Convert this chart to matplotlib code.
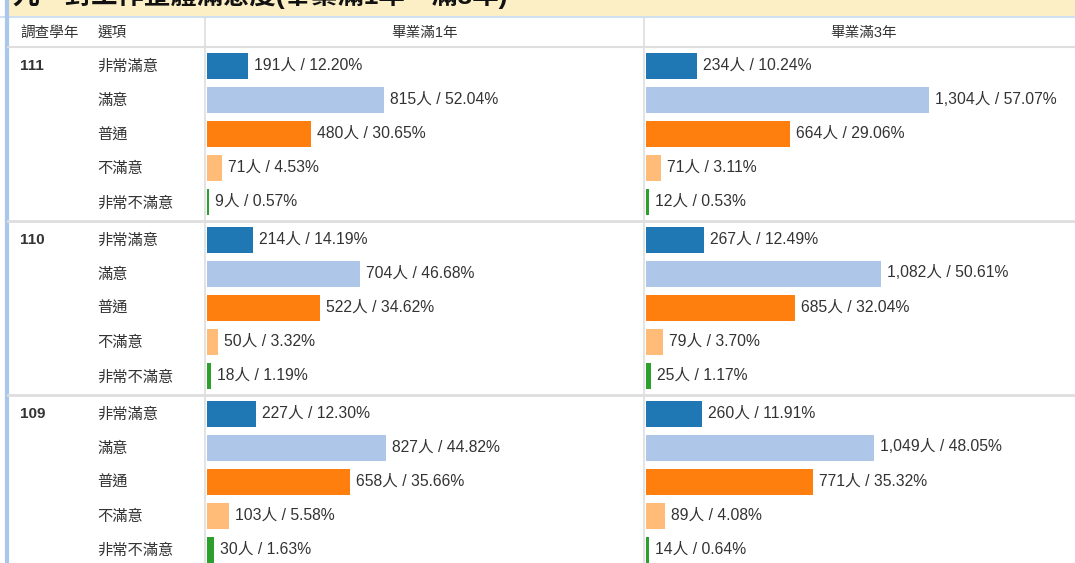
import matplotlib
matplotlib.use('Agg')
import matplotlib.pyplot as plt
import numpy as np

plt.rcParams['font.family'] = ['Liberation Sans', 'Noto Sans CJK TC', 'DejaVu Sans']

# data
title = '九、對工作整體滿意度(畢業滿1年、滿3年)'
years = ['111', '110', '109']
options = ['非常滿意', '滿意', '普通', '不滿意', '非常不滿意']
panels = ['畢業滿1年', '畢業滿3年']

count_1y = [[191, 815, 480, 71, 9],
            [214, 704, 522, 50, 18],
            [227, 827, 658, 103, 30]]
pct_1y = [[12.20, 52.04, 30.65, 4.53, 0.57],
          [14.19, 46.68, 34.62, 3.32, 1.19],
          [12.30, 44.82, 35.66, 5.58, 1.63]]
count_3y = [[234, 1304, 664, 71, 12],
            [267, 1082, 685, 79, 25],
            [260, 1049, 771, 89, 14]]
pct_3y = [[10.24, 57.07, 29.06, 3.11, 0.53],
          [12.49, 50.61, 32.04, 3.70, 1.17],
          [11.91, 48.05, 35.32, 4.08, 0.64]]

colors = ['#1f77b4', '#aec7e8', '#ff7f0e', '#ffbb78', '#2ca02c']

# layout (pixels)
W, H = 1075, 563
head_top, head_bot = 17, 47
col_x = [206, 645]
panel_w = 430
px_per_person = 0.217
unit_top, unit_bot = -0.557, 14.58
grp_step = 5.1
line_c = '#dedede'
txt_c = '#333333'


def fig_rect(x0, y0, x1, y1):
    return [x0 / W, 1 - y1 / H, (x1 - x0) / W, (y1 - y0) / H]


fig = plt.figure(figsize=(W / 100, H / 100), dpi=100)

bg = fig.add_axes([0, 0, 1, 1])
bg.set_xlim(0, W)
bg.set_ylim(H, 0)
bg.axis('off')

# title band (top half is cut off in the source too)
bg.add_patch(plt.Rectangle((5, 0), W, head_top - 1, color='#fcefc6', zorder=0))
bg.axhline(head_top, color='#cfe0f0', lw=1.5)
bg.text(12, 9, title, fontsize=19, fontweight='bold', color='#111111',
        va='bottom', ha='left', clip_on=False)

# left blue border
bg.plot([7, 7], [0, H], color='#a9c6ec', lw=3, solid_capstyle='butt')

# header
bg.axhline(head_bot, xmin=8 / W, color=line_c, lw=1.5)
for x in col_x:
    bg.plot([x - 1, x - 1], [head_top, H], color=line_c, lw=1.2)
hy = (head_top + head_bot) / 2 + 1
bg.text(20, hy, '調查學年', fontsize=10.5, color=txt_c, va='center')
bg.text(98, hy, '選項', fontsize=10.5, color=txt_c, va='center')
for x, name in zip(col_x, panels):
    bg.text(x + 219, hy, name, fontsize=10.5, color=txt_c, va='center', ha='center')

# rows axes (labels and separators)
rows = fig.add_axes(fig_rect(0, head_bot, W, H))
rows.set_xlim(0, W)
rows.set_ylim(unit_bot, unit_top)
rows.axis('off')

for g, yr in enumerate(years):
    base = g * grp_step
    rows.text(20, base, yr, fontsize=11, fontweight='bold', color=txt_c, va='center')
    for r, opt in enumerate(options):
        rows.text(97, base + r + 0.03, opt, fontsize=11, color=txt_c, va='center')
    if g > 0:
        rows.axhline(base - (grp_step - 4) / 2, xmin=8 / W, color=line_c, lw=2)

# bar panels
for x, counts, pcts in zip(col_x, [count_1y, count_3y], [pct_1y, pct_3y]):
    ax = fig.add_axes(fig_rect(x + 1, head_bot, x + 1 + panel_w, H))
    ax.set_xlim(0, panel_w / px_per_person)
    ax.set_ylim(unit_bot, unit_top)
    ax.axis('off')
    for g in range(len(years)):
        ypos = g * grp_step + np.arange(len(options))
        ax.barh(ypos, counts[g], height=0.76, color=colors)
        for y, c, p in zip(ypos, counts[g], pcts[g]):
            ax.annotate(f'{c:,}人 / {p:.2f}%', (c, y), xytext=(6, 1),
                        textcoords='offset pixels', va='center', ha='left',
                        fontsize=11.3, color=txt_c)

fig.savefig('out.png', dpi=100)
